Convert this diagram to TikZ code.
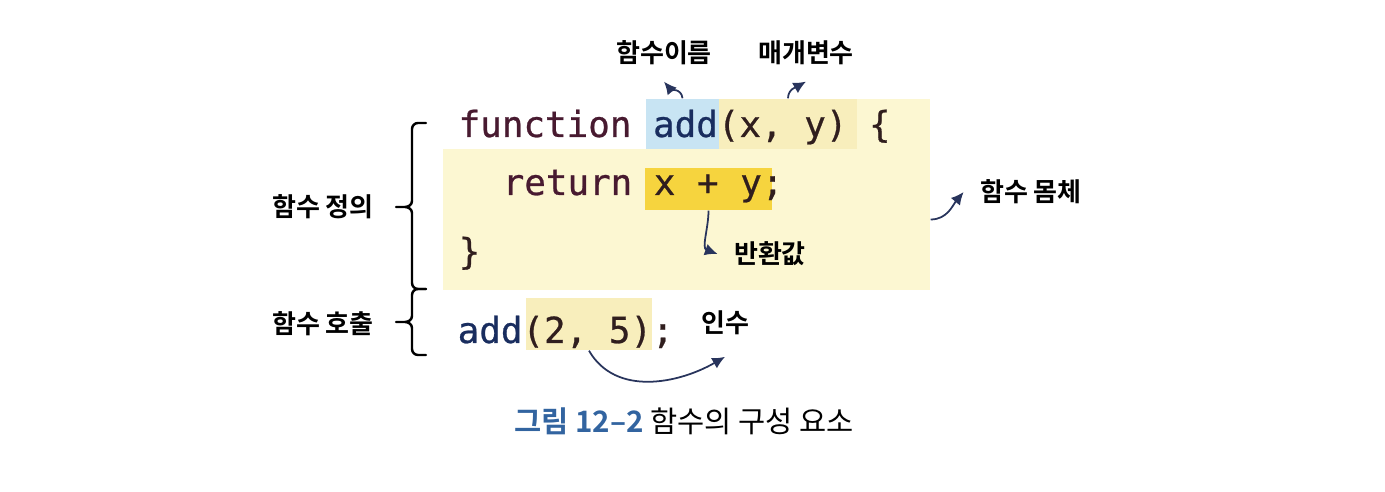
\documentclass[tikz,border=0pt]{standalone}
\usepackage{fontspec}
\newfontfamily\codefont{DejaVu Sans Mono}[FakeBold=0.7]
\newfontfamily\kr{Noto Sans CJK KR}[BoldFont={Noto Sans CJK KR Bold}]
\usetikzlibrary{arrows.meta,fit}
\definecolor{bodyyel}{RGB}{252,247,210}
\definecolor{argyel}{RGB}{248,238,188}
\definecolor{nameblue}{RGB}{200,228,243}
\definecolor{retyel}{RGB}{246,212,62}
\definecolor{kw}{RGB}{72,26,48}
\definecolor{fn}{RGB}{25,45,95}
\definecolor{codetxt}{RGB}{48,30,30}
\definecolor{arrcol}{RGB}{40,52,92}
\definecolor{capblue}{RGB}{50,100,160}
\begin{document}
\begin{tikzpicture}[x=0.01cm, y=-0.01cm,
    hl/.style={inner sep=0pt, draw=none},
    code/.style={font=\codefont\fontsize{10.2}{12}\selectfont, text=codetxt, inner sep=0pt, anchor=base west},
    lbl/.style={font=\kr\bfseries\fontsize{7.4}{9}\selectfont, inner sep=4.5pt},
    pt/.style={draw=arrcol, line width=0.5pt, -{Latex[length=3.6pt,width=3.4pt]}},
    brace/.style={line width=0.7pt, line cap=round}]
    \useasboundingbox (0,0) rectangle (1385,492);
    \node[hl, fill=bodyyel, fit={(443,149) (930,290)}] (body) {};
    \node[hl, fill=bodyyel, fit={(719,99) (930,149)}] (bodytop) {};
    \node[hl, fill=argyel, fit={(719,99) (857,149)}] (prm) {};
    \node[hl, fill=nameblue, fit={(646,99) (719,149)}] (fname) {};
    \node[hl, fill=retyel, fit={(645,168) (772,210)}] (ret) {};
    \node[hl, fill=argyel, fit={(526,298) (652,350)}] (arg) {};
    \node[code] (ln1) at (458,137) {\textcolor{kw}{function} \textcolor{fn}{add}(x, y) \{};
    \node[code] (ln2) at (502,195) {\textcolor{kw}{return} x + y;};
    \node[code] (ln3) at (458,264) {\}};
    \node[code] (ln4) at (457,343) {\textcolor{fn}{add}(2, 5);};
    \node[lbl] (nm) at (664,53) {함수이름};
    \node[lbl] (pm) at (806,53) {매개변수};
    \node[lbl] (rv) at (770,254) {반환값};
    \node[lbl] (bd) at (1031,192) {함수 몸체};
    \node[lbl, inner sep=6pt] (ia) at (725,323) {인수};
    \node[lbl] (def) at (323,207) {함수 정의};
    \node[lbl] (call) at (323,324) {함수 호출};
    \draw[pt] (fname.north) to[out=95,in=-50] (nm.south);
    \draw[pt] (prm.north) to[out=90,in=-150] (pm.south);
    \draw[pt] (ret.south) to[out=-90,in=160] (rv.west);
    \draw[pt] (body.east) to[out=0,in=-130] (bd.west);
    \draw[pt] (arg.south) to[out=-60,in=-150] (ia.south);
    \foreach \t/\m/\b in {123/207/289, 289/322/355}
        \draw[brace] (426,\t) -- (418,\t) to[out=180,in=90] (412,\t+6) -- (412,\m-6)
            to[out=-90,in=0] (405,\m) -- (396,\m) (405,\m) to[out=0,in=90] (412,\m+6)
            -- (412,\b-6) to[out=-90,in=180] (418,\b) -- (426,\b);
    \node[font=\kr\fontsize{8.4}{10}\selectfont, anchor=base] (cap) at (684,433) {\textcolor{capblue}{\bfseries 그림 12–2} 함수의 구성 요소};
\end{tikzpicture}
\end{document}
